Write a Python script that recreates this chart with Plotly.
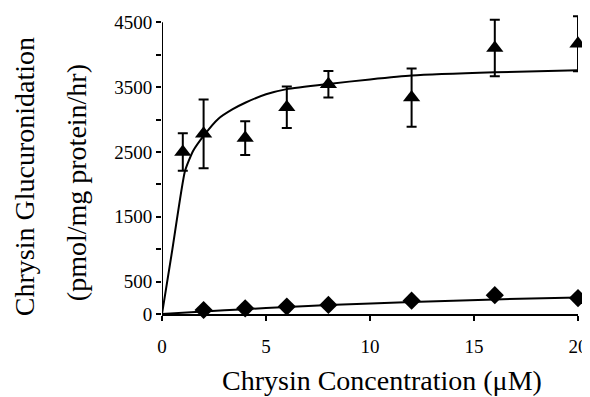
import plotly.graph_objects as go

# Data
conc = [1, 2, 4, 6, 8, 12, 16, 20]
tri_vals = [2500, 2780, 2715, 3190, 3545, 3340, 4105, 4170]
tri_err = [290, 530, 260, 320, 205, 450, 435, 425]

dia_conc = [2, 4, 6, 8, 12, 16, 20]
dia_vals = [62, 88, 115, 140, 205, 290, 245]

# fitted curves
fit_tri_x = [0, 0.5, 1.1, 1.5, 2, 2.7, 3.4, 4, 5, 6, 8, 10, 12, 16, 20]
fit_tri_y = [0, 1000, 2200, 2520, 2750, 3010, 3160, 3260, 3390, 3470, 3550, 3620, 3680, 3730, 3760]

fit_dia_x = [0, 2, 4, 6, 8, 12, 16, 20]
fit_dia_y = [0, 40, 75, 108, 138, 185, 225, 255]

x_ticks = [0, 5, 10, 15, 20]
y_ticks = [0, 500, 1000, 1500, 2000, 2500, 3000, 3500, 4000, 4500]
y_ticktext = ["0", "500", "", "1500", "", "2500", "", "3500", "", "4500"]
Y_AXIS_TOP = 4500
Y_RANGE_TOP = 4660   # head-room so the top error-bar caps are not clipped

FONT = "Liberation Serif, Times New Roman, serif"

fig = go.Figure()
fig.add_trace(go.Scatter(x=fit_tri_x, y=fit_tri_y, mode="lines",
                         line=dict(color="black", width=2, shape="spline", smoothing=0.5),
                         showlegend=False, hoverinfo="skip"))
fig.add_trace(go.Scatter(x=fit_dia_x, y=fit_dia_y, mode="lines",
                         line=dict(color="black", width=2, shape="spline", smoothing=0.6),
                         showlegend=False, hoverinfo="skip"))
fig.add_trace(go.Scatter(x=conc, y=tri_vals, mode="markers", cliponaxis=False,
                         marker=dict(symbol="triangle-up", size=15, color="black"),
                         error_y=dict(type="data", array=tri_err, color="black",
                                      thickness=2, width=5),
                         showlegend=False))
fig.add_trace(go.Scatter(x=dia_conc, y=dia_vals, mode="markers", cliponaxis=False,
                         marker=dict(symbol="diamond", size=14, color="black"),
                         showlegend=False))

# page body has an 8px margin; figure is placed at (8, 8)
OFF = 8
W, H = 590 - OFF, 397 - OFF
px_l, px_r, px_b = 162, 578, 314          # plot area in window pixels
px_4500 = 22
px_per_unit = (px_b - px_4500) / Y_AXIS_TOP
px_t = px_b - Y_RANGE_TOP * px_per_unit
L, T = px_l - OFF, px_t - OFF
R = W - (px_r - OFF)
B = H - (px_b - OFF)
pw = px_r - px_l
ph = px_b - px_t


def xp(px):
    return (px - px_l) / pw


def yp(py):
    return (px_b - py) / ph


fig.update_layout(
    width=W, height=H,
    margin=dict(l=L, r=R, t=T, b=B, autoexpand=False),
    paper_bgcolor="white", plot_bgcolor="white",
    font=dict(family=FONT, color="black", size=19),
    xaxis=dict(range=[0, 20], tickvals=x_ticks, ticks="outside", ticklen=5,
               tickwidth=2, tickcolor="black", showline=True, linecolor="black",
               linewidth=2, showgrid=False, zeroline=False, automargin=False,
               tickfont=dict(family=FONT, size=19), ticklabelstandoff=9),
    yaxis=dict(range=[0, Y_RANGE_TOP], tickvals=y_ticks, ticktext=y_ticktext,
               ticks="outside", ticklen=5, tickwidth=2, tickcolor="black",
               showline=False, showgrid=False,
               zeroline=False, automargin=False, tickfont=dict(family=FONT, size=19)),
)

# y-axis spine only up to the last tick
fig.add_shape(type="line", xref="x", yref="y", x0=0, x1=0, y0=0, y1=Y_AXIS_TOP,
              line=dict(color="black", width=2), layer="above")

fig.add_annotation(text="Chrysin Concentration (μM)", xref="paper", yref="paper",
                   x=xp(381.7), y=yp(381),
                   xanchor="center", yanchor="middle", showarrow=False,
                   font=dict(family=FONT, size=28, color="black"))
fig.add_annotation(text="Chrysin Glucuronidation", xref="paper", yref="paper",
                   x=xp(24), y=yp(177), textangle=-90,
                   xanchor="center", yanchor="middle", showarrow=False,
                   font=dict(family=FONT, size=28, color="black"))
fig.add_annotation(text="(pmol/mg protein/hr)", xref="paper", yref="paper",
                   x=xp(76), y=yp(183), textangle=-90,
                   xanchor="center", yanchor="middle", showarrow=False,
                   font=dict(family=FONT, size=28, color="black"))

fig.write_html("out.html")
